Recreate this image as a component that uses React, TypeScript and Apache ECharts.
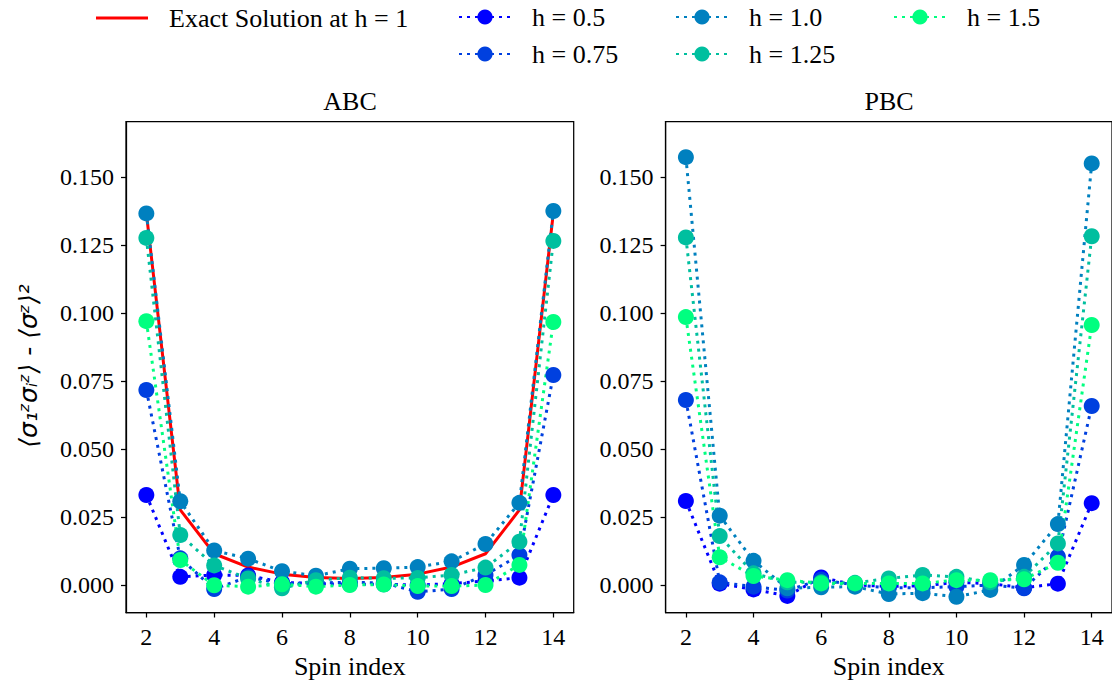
import React, { useEffect, useRef } from "react";
import * as echarts from "echarts";

const spins = [2, 3, 4, 5, 6, 7, 8, 9, 10, 11, 12, 13, 14];
const xTicks = [2, 4, 6, 8, 10, 12, 14];
const yTicks = [0, 0.025, 0.05, 0.075, 0.1, 0.125, 0.15];

const seriesNames = ["h = 0.5", "h = 0.75", "h = 1.0", "h = 1.25", "h = 1.5"];
const exactName = "Exact Solution at h = 1";

const abcExact = [0.1368, 0.0276, 0.0115, 0.0066, 0.004, 0.0028, 0.0024, 0.0028, 0.004, 0.0066, 0.0115, 0.0276, 0.1368];

const abcH05 = [0.0331, 0.003, 0.0037, 0.0035, 0.001, 0.0005, 0.0003, 0.0003, 0.0, 0.0005, 0.0015, 0.0027, 0.0331];
const abcH075 = [0.0717, 0.0098, -0.0015, 0.003, 0.0005, 0.0008, 0.001, 0.0008, -0.0025, -0.0015, 0.0037, 0.011, 0.0772];
const abcH10 = [0.1366, 0.0308, 0.0127, 0.0097, 0.0051, 0.0034, 0.006, 0.0062, 0.0066, 0.0087, 0.0151, 0.0302, 0.1375];
const abcH125 = [0.1276, 0.0184, 0.0072, 0.0024, -0.0012, 0.0018, 0.0027, 0.0025, 0.0026, 0.0037, 0.0064, 0.0159, 0.1265];
const abcH15 = [0.097, 0.0092, -0.0001, -0.0006, 0.0003, -0.0006, 0.0, 0.0002, -0.0004, -0.0004, 0.0, 0.0074, 0.0967];

const pbcH05 = [0.0309, 0.0005, -0.0016, -0.004, 0.0028, 0.0, -0.0005, -0.0003, 0.001, 0.0005, -0.001, 0.0005, 0.0301];
const pbcH075 = [0.068, 0.001, -0.0006, -0.002, 0.002, 0.0, -0.001, -0.001, -0.0006, 0.0, -0.0012, 0.0104, 0.0658];
const pbcH10 = [0.1573, 0.0255, 0.0089, -0.0012, -0.0008, -0.0006, -0.0033, -0.003, -0.0043, -0.0018, 0.0074, 0.0224, 0.155];
const pbcH125 = [0.1278, 0.018, 0.0043, 0.001, 0.001, 0.0008, 0.0024, 0.0037, 0.003, 0.001, 0.003, 0.0153, 0.1282];
const pbcH15 = [0.0985, 0.0102, 0.0033, 0.0018, 0.0006, 0.0006, 0.0006, 0.0006, 0.0018, 0.0018, 0.0021, 0.0082, 0.0956];

const colors = ["#0000ff", "#0040df", "#0080bf", "#00bf9f", "#00ff80"];

const FONT = "Liberation Serif";
const FS = 26;
const TFS = 24;

export default function App() {
  const ref = useRef<HTMLDivElement>(null);
  useEffect(() => {
    document.body.style.margin = "0";
    const chart = echarts.init(ref.current!, null, { renderer: "svg" });
    const abc = [abcH05, abcH075, abcH10, abcH125, abcH15];
    const pbc = [pbcH05, pbcH075, pbcH10, pbcH125, pbcH15];
    const pairs = (arr: number[]) => spins.map((s, i) => [s, arr[i]]);

    const dotted = (c: string) => ({
      color: c,
      width: 3,
      type: [3, 5] as number[],
      cap: "butt" as const,
    });

    const series: any[] = [
      {
        name: exactName,
        type: "line",
        xAxisIndex: 0,
        yAxisIndex: 0,
        data: pairs(abcExact),
        showSymbol: false,
        symbol: "none",
        lineStyle: { color: "#ff0000", width: 3 },
        itemStyle: { color: "#ff0000" },
      },
    ];
    [abc, pbc].forEach((group, gi) => {
      group.forEach((arr, k) => {
        series.push({
          name: seriesNames[k],
          type: "line",
          xAxisIndex: gi,
          yAxisIndex: gi,
          data: pairs(arr),
          symbol: "circle",
          symbolSize: 16,
          lineStyle: dotted(colors[k]),
          itemStyle: { color: colors[k] },
        });
      });
    });

    const grids = [
      { left: 126, top: 121.5, width: 447.7, height: 491 },
      { left: 665.6, top: 121.5, width: 447.7, height: 491 },
    ];

    const xAxes = grids.map((_, i) => ({
      type: "value",
      gridIndex: i,
      min: 1.4,
      max: 14.6,
      name: "Spin index",
      nameLocation: "middle",
      nameGap: 41,
      nameTextStyle: { fontFamily: FONT, fontSize: FS, color: "#000" },
      splitLine: { show: false },
      axisLine: { show: true, onZero: false, lineStyle: { color: "#000", width: 1.25 } },
      axisTick: { show: true, inside: false, length: 5, lineStyle: { color: "#000", width: 1.25 }, customValues: xTicks },
      axisLabel: { fontFamily: FONT, fontSize: TFS, color: "#000", margin: 12, customValues: xTicks },
    }));

    const yAxes = grids.map((_, i) => ({
      type: "value",
      gridIndex: i,
      min: -0.0101,
      max: 0.1704,
      splitLine: { show: false },
      axisLine: { show: true, onZero: false, lineStyle: { color: "#000", width: 1.25 } },
      axisTick: { show: true, inside: false, length: 5, lineStyle: { color: "#000", width: 1.25 }, customValues: yTicks },
      axisLabel: {
        fontFamily: FONT,
        fontSize: TFS,
        color: "#000",
        margin: 12,
        customValues: yTicks,
        formatter: (v: number) => v.toFixed(3),
      },
    }));

    const legendText = { fontFamily: FONT, fontSize: FS, color: "#000", padding: [0, 0, 0, 16] };
    const legendBase = {
      orient: "vertical",
      padding: 0,
      itemWidth: 52,
      itemHeight: 19,
      itemGap: 11,
      textStyle: legendText,
      selectedMode: false,
    };

    chart.setOption({
      animation: false,
      backgroundColor: "#fff",
      grid: grids.map((g) => ({ ...g, show: true, borderColor: "#000", borderWidth: 1.25, backgroundColor: "transparent" })),
      xAxis: xAxes,
      yAxis: yAxes,
      legend: [
        { ...legendBase, itemHeight: 3, data: [{ name: exactName, icon: "rect" }], left: 96, top: 5 },
        { ...legendBase, data: ["h = 0.5", "h = 0.75"], left: 458, top: 4 },
        { ...legendBase, data: ["h = 1.0", "h = 1.25"], left: 675, top: 4 },
        { ...legendBase, data: ["h = 1.5"], left: 893, top: 4 },
      ],
      graphic: [
        {
          type: "text",
          x: 350,
          y: 101,
          style: { text: "ABC", font: `${FS}px "${FONT}"`, fill: "#000", align: "center", verticalAlign: "middle" },
        },
        {
          type: "text",
          x: 889,
          y: 101,
          style: { text: "PBC", font: `${FS}px "${FONT}"`, fill: "#000", align: "center", verticalAlign: "middle" },
        },
        {
          type: "text",
          x: 28,
          y: 366,
          rotation: Math.PI / 2,
          style: {
            text: "⟨σ₁ᶻσᵢᶻ⟩ - ⟨σᶻ⟩²",
            font: `italic 25px "DejaVu Sans"`,
            fill: "#000",
            align: "center",
            verticalAlign: "middle",
          },
        },
      ],
      series,
    });
    return () => chart.dispose();
  }, []);
  return <div ref={ref} style={{ position: "absolute", left: 0, top: 0, width: 1112, height: 687 }} />;
}
